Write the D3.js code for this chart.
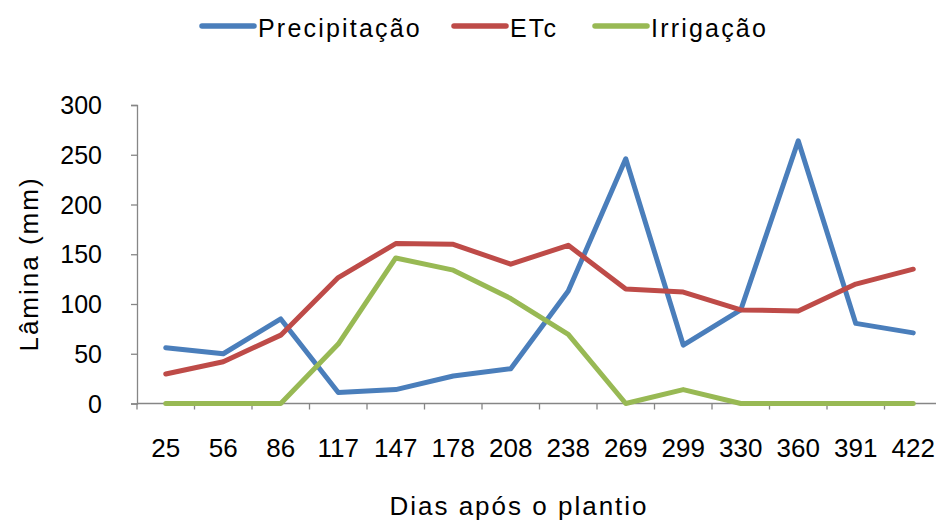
<!DOCTYPE html>
<html>
<head>
<meta charset="utf-8">
<script src="https://cdn.jsdelivr.net/npm/d3@7"></script>
<style>
  body { margin: 0; background: #fff; }
  svg text { font-family: "Liberation Sans", Arial, sans-serif; fill: #000; }
</style>
</head>
<body>
<svg id="chart" width="936" height="520"></svg>
<script>
const days = ["25", "56", "86", "117", "147", "178", "208", "238", "269", "299", "330", "360", "391", "422"];
const precipitacao = [56, 50, 85, 11, 14, 27.6, 35, 113, 246, 58.7, 94, 264, 80.5, 71];
const etc = [29.6, 42, 68.7, 126.6, 160.7, 160, 140, 159, 115, 112, 94, 93, 120, 135];
const irrigacao = [0, 0, 0, 59.7, 146.3, 134, 105.5, 69.4, 0, 14, 0, 0, 0, 0];
const yTicks = [0, 50, 100, 150, 200, 250, 300];

const series = [
  { name: "Precipitação", values: precipitacao, color: "#4A7EBB" },
  { name: "ETc", values: etc, color: "#BE4B48" },
  { name: "Irrigação", values: irrigacao, color: "#98B954" }
];

const svg = d3.select("#chart");
// plot area runs a little past the right edge of the picture
const margin = { top: 105, left: 137, bottom: 403.5, right: 942 };

const x = d3.scaleBand().domain(days).range([margin.left, margin.right]);
const y = d3.scaleLinear().domain([0, 300]).range([margin.bottom, margin.top]);

const axisColor = "#868686";

// Y axis
const yAxis = svg.append("g")
  .attr("transform", `translate(${margin.left},0)`)
  .call(d3.axisLeft(y).tickValues(yTicks).tickSize(6).tickPadding(29));
yAxis.select(".domain").attr("stroke", axisColor).attr("stroke-width", 1.3);
yAxis.selectAll(".tick line").attr("stroke", axisColor).attr("stroke-width", 1.3);
yAxis.selectAll(".tick text").attr("font-size", 25).attr("dy", "0.34em");

// X axis, ticks on the band boundaries
const xAxis = svg.append("g").attr("transform", `translate(0,${y(0)})`);
xAxis.append("line")
  .attr("x1", margin.left).attr("x2", margin.right)
  .attr("stroke", axisColor).attr("stroke-width", 1.3);
xAxis.selectAll("line.tk")
  .data(days.concat(["end"]))
  .enter().append("line")
  .attr("class", "tk")
  .attr("x1", (d, i) => margin.left + i * x.step())
  .attr("x2", (d, i) => margin.left + i * x.step())
  .attr("y1", 0).attr("y2", 6)
  .attr("stroke", axisColor).attr("stroke-width", 1.3);
xAxis.selectAll("text")
  .data(days)
  .enter().append("text")
  .attr("x", d => x(d) + x.bandwidth() / 2)
  .attr("y", 53)
  .attr("text-anchor", "middle")
  .attr("font-size", 26)
  .text(d => d);

// Lines
const line = d3.line()
  .x((d, i) => x(days[i]) + x.bandwidth() / 2)
  .y(d => y(d));

svg.selectAll("path.series")
  .data(series)
  .enter().append("path")
  .attr("class", "series")
  .attr("d", d => line(d.values))
  .attr("fill", "none")
  .attr("stroke", d => d.color)
  .attr("stroke-width", 5)
  .attr("stroke-linejoin", "round")
  .attr("stroke-linecap", "round");

// Axis titles
svg.append("text")
  .attr("x", 519).attr("y", 515)
  .attr("text-anchor", "middle")
  .attr("font-size", 26)
  .attr("letter-spacing", 2)
  .text("Dias após o plantio");

svg.append("text")
  .attr("transform", `translate(38,264) rotate(-90)`)
  .attr("text-anchor", "middle")
  .attr("font-size", 26)
  .attr("letter-spacing", 2)
  .text("Lâmina (mm)");

// Legend
const legendX = [200, 452, 593];
const legend = svg.append("g");
series.forEach((s, i) => {
  legend.append("line")
    .attr("x1", legendX[i] + 2).attr("x2", legendX[i] + 54)
    .attr("y1", 26).attr("y2", 26)
    .attr("stroke", s.color).attr("stroke-width", 5.5)
    .attr("stroke-linecap", "round");
  legend.append("text")
    .attr("x", legendX[i] + 58).attr("y", 37)
    .attr("font-size", 25)
    .attr("letter-spacing", 2.2)
    .text(s.name);
});
</script>
</body>
</html>
